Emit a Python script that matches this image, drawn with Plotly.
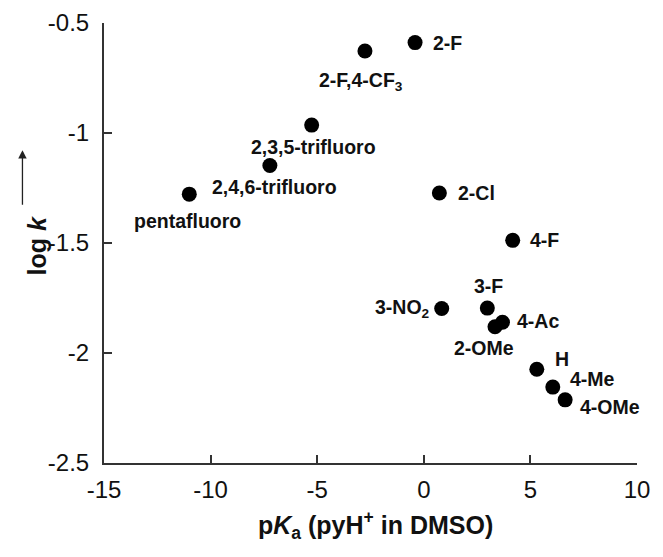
import plotly.graph_objects as go

names = ["pentafluoro", "2,4,6-trifluoro", "2,3,5-trifluoro", "2-F,4-CF<sub>3</sub>", "2-F",
         "2-Cl", "4-F", "3-NO<sub>2</sub>", "3-F", "4-Ac", "2-OMe", "H", "4-Me", "4-OMe"]
pka = [-11.0, -7.22, -5.26, -2.76, -0.41, 0.73, 4.17, 0.84, 2.98, 3.69, 3.34, 5.30, 6.05, 6.63]
logk = [-1.278, -1.148, -0.964, -0.627, -0.589, -1.273, -1.488, -1.798, -1.796, -1.86, -1.881, -2.074, -2.155, -2.213]

x_ticks = [-15, -10, -5, 0, 5, 10]
x_ticktext = ["-15", "-10", "-5", "0", "5", "10"]
y_ticks = [-2.5, -2, -1.5, -1, -0.5]
y_ticktext = ["-2.5", "-2", "-1.5", "-1", "-0.5"]

# label placement: (xanchor, xshift, yshift) in pixels relative to point
label_pos = {
    "pentafluoro": ("center", -2, -27),
    "2,4,6-trifluoro": ("center", 5, -21),
    "2,3,5-trifluoro": ("center", 2, -22),
    "2-F,4-CF<sub>3</sub>": ("center", -4, -31),
    "2-F": ("left", 16, 0),
    "2-Cl": ("left", 17, 0),
    "4-F": ("left", 15, 0),
    "3-NO<sub>2</sub>": ("right", -10, 0),
    "3-F": ("center", 1, 22),
    "4-Ac": ("left", 13, 1),
    "2-OMe": ("center", -11, -21),
    "H": ("left", 16, 10),
    "4-Me": ("left", 15, 8),
    "4-OMe": ("left", 13, -7),
}

FONT = "Liberation Sans, Arial, sans-serif"
fig = go.Figure()
fig.add_trace(go.Scatter(x=pka, y=logk, mode="markers",
                         marker=dict(color="black", size=15, line=dict(width=0)),
                         showlegend=False))

lab_font = dict(family=FONT, size=19.5, color="#111")
for n, xv, yv in zip(names, pka, logk):
    xa, xs, ys = label_pos[n]
    fig.add_annotation(x=xv, y=yv, xref="x", yref="y", text="<b>%s</b>" % n,
                       showarrow=False, xanchor=xa, yanchor="middle",
                       xshift=xs, yshift=ys, font=lab_font)

axis_common = dict(showline=True, linecolor="#333", linewidth=2, ticks="inside",
                   ticklen=8, tickwidth=1.5, tickcolor="#333", showgrid=False,
                   zeroline=False, mirror=False, automargin=False,
                   tickfont=dict(family=FONT, size=24, color="#111"))

fig.update_xaxes(range=[-15, 10], tickvals=x_ticks, ticktext=x_ticktext, ticklabelstandoff=4,
                 **axis_common)
fig.update_yaxes(range=[-2.5, -0.5], tickvals=y_ticks, ticktext=y_ticktext,
                 ticklabelstandoff=8, **axis_common)

fig.add_annotation(xref="paper", yref="paper", x=0.509, y=-0.141, yanchor="middle",
                   text="<b>p<i>K</i><sub>a</sub> (pyH<sup>+</sup> in DMSO)</b>", showarrow=False,
                   font=dict(family=FONT, size=25, color="#111"))
fig.add_annotation(xref="paper", yref="paper", x=-0.155, y=0.493, text="<b>log <i>k</i></b>",
                   textangle=-90, showarrow=False,
                   font=dict(family=FONT, size=25, color="#111"))
fig.add_annotation(xref="paper", yref="paper", x=-0.153, y=0.711, ax=0, ay=56,
                   text="", showarrow=True, arrowhead=2, arrowsize=1.3, arrowwidth=1.3, arrowcolor="#222")

# page body has an 8px default margin, so the figure is sized to fit inside the window
fig.update_layout(width=655, height=549, margin=dict(l=96, r=26, t=15, b=94),
                  plot_bgcolor="white", paper_bgcolor="white")

fig.write_html("out.html")
